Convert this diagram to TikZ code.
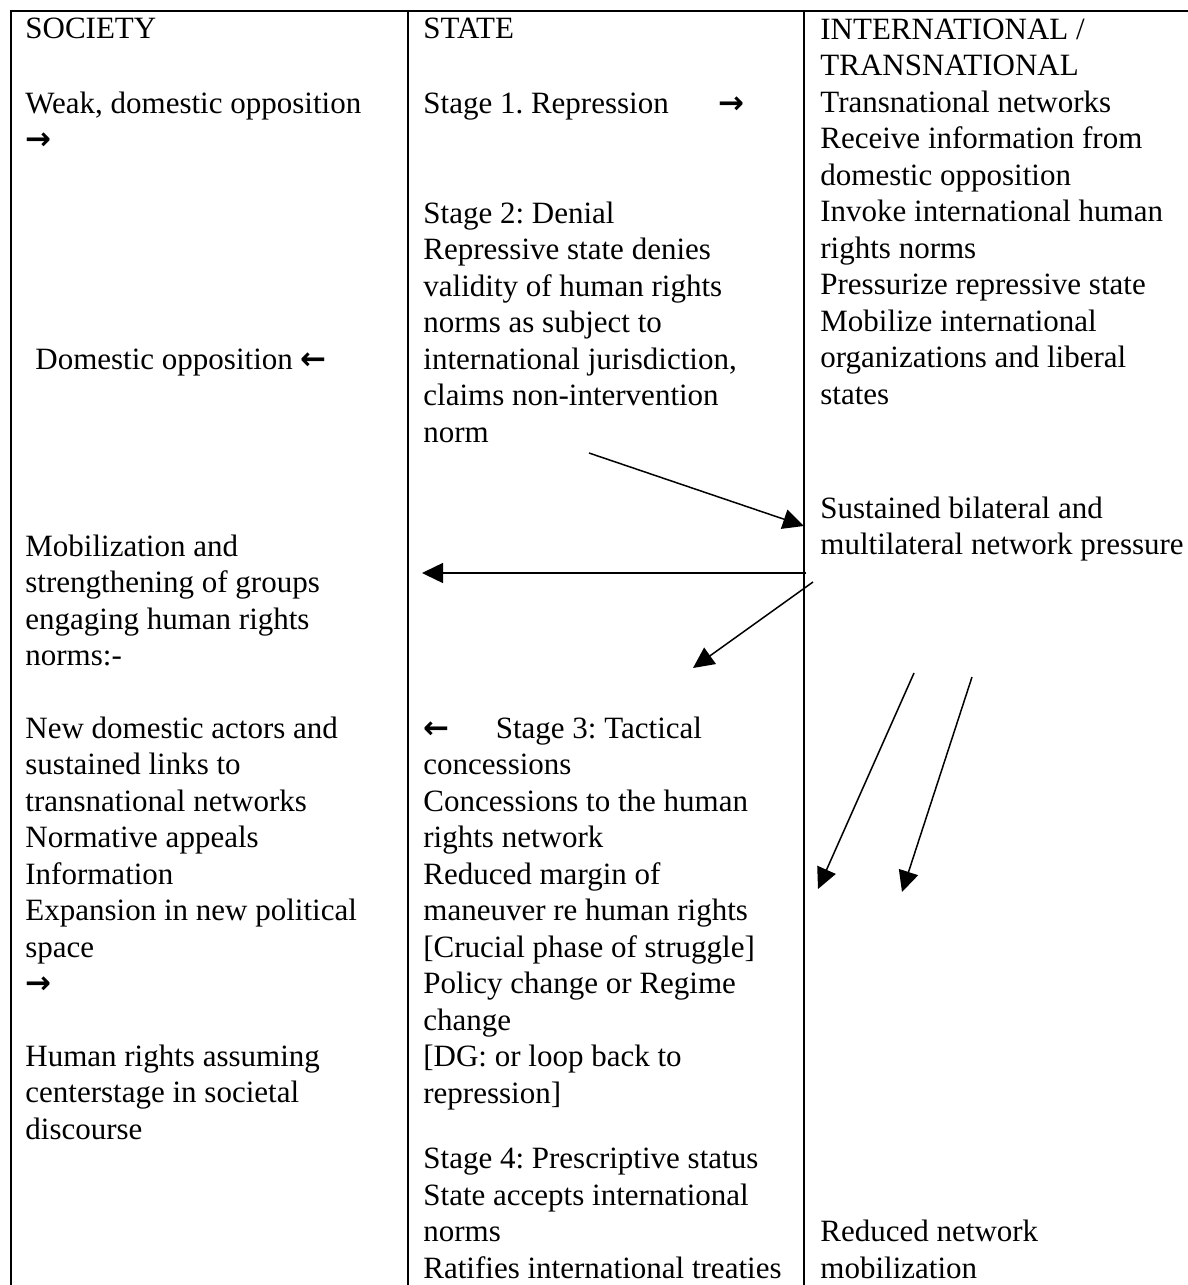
\documentclass[tikz,border=0pt]{standalone}
\usepackage{fontspec}
\setmainfont{Liberation Serif}
\newfontfamily\arrfont{DejaVu Sans}
\usetikzlibrary{arrows.meta}
\newcommand{\ra}{{\arrfont\bfseries →}}
\newcommand{\la}{{\arrfont\bfseries ←}}
\frenchspacing
\begin{document}
\begin{tikzpicture}[x=0.5pt,y=-0.5pt,
  txt/.style={anchor=base west, inner sep=0pt, align=left,
    font=\fontsize{15.5pt}{18.25pt}\selectfont\frenchspacing},
  rule/.style={line width=1.1pt},
  conn/.style={line width=0.75pt, -{Triangle[length=10.5pt,width=10pt]}}]
\useasboundingbox (0,0) rectangle (1188,1285);
% table rules
\draw[rule] (1190,11) -- (11,11) -- (11,1290);
\draw[rule] (408,11) -- (408,1290);
\draw[rule] (804,11) -- (804,1290);
% column 1: society (positions are baselines of the last line)
\node[txt] (s0) at (25,39) {SOCIETY};
\node[txt] (s1) at (25,149.5) {Weak, domestic opposition\\\ra};
\node[txt] (s2) at (35,369) {Domestic opposition \la};
\node[txt] (s3) at (25,665.5) {Mobilization and\\strengthening of groups\\engaging human rights\\norms:-};
\node[txt] (s4) at (25,993.5) {New domestic actors and\\sustained links to\\transnational networks\\Normative appeals\\Information\\Expansion in new political\\space\\\ra};
\node[txt] (s5) at (25,1139) {Human rights assuming\\centerstage in societal\\discourse};
% column 2: state
\node[txt] (t0) at (423,39) {STATE};
\node[txt] (t1) at (423,113) {Stage 1. Repression\hspace{1.6em}\ra};
\node[txt] (t2) at (423,442) {Stage 2: Denial\\Repressive state denies\\validity of human rights\\norms as subject to\\international jurisdiction,\\claims non-intervention\\norm};
\node[txt] (t3) at (423,1103) {\la\hspace{1.5em}Stage 3: Tactical\\concessions\\Concessions to the human\\rights network\\Reduced margin of\\maneuver re human rights\\{[Crucial phase of struggle]}\\Policy change or Regime\\change\\{[DG: or loop back to}\\repression]};
\node[txt] (t4) at (423,1278) {Stage 4: Prescriptive status\\State accepts international\\norms\\Ratifies international treaties};
% column 3: international
\node[txt] (i0) at (820,404) {INTERNATIONAL /\\TRANSNATIONAL\\Transnational networks\\Receive information from\\domestic opposition\\Invoke international human\\rights norms\\Pressurize repressive state\\Mobilize international\\organizations and liberal\\states};
\node[txt] (i1) at (820,554.5) {Sustained bilateral and\\multilateral network pressure};
\node[txt] (i2) at (820,1278) {Reduced network\\mobilization};
% connectors
\coordinate (a1s) at (589,453);
\coordinate (a1e) at (804,526);
\coordinate (a2s) at (806,573);
\coordinate (a2e) at (422,573);
\coordinate (a3s) at (813,582);
\coordinate (a3e) at (693,668);
\coordinate (a4s) at (914,673);
\coordinate (a4e) at (818,889);
\coordinate (a5s) at (972,677);
\coordinate (a5e) at (902,892);
\draw[conn] (a1s) -- (a1e);
\draw[conn] (a2s) -- (a2e);
\draw[conn] (a3s) -- (a3e);
\draw[conn] (a4s) -- (a4e);
\draw[conn] (a5s) -- (a5e);
\end{tikzpicture}
\end{document}
